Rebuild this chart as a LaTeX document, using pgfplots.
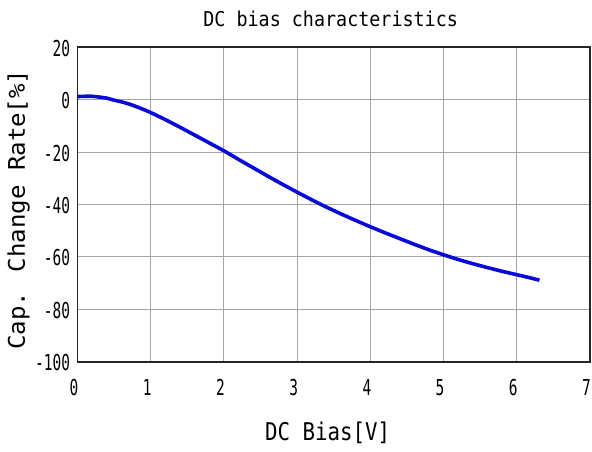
\documentclass[border=0pt]{standalone}
\usepackage{fontspec}
\usepackage{pgfplots}
\pgfplotsset{compat=1.18}
\setmainfont{DejaVu Sans Mono}
\newfontfamily\titlefont{DejaVu Sans Mono}[FakeStretch=0.9]
\newfontfamily\tickfont{DejaVu Sans Mono}[FakeStretch=0.66]
\newfontfamily\xlabfont{DejaVu Sans Mono}[FakeStretch=0.85]
\newfontfamily\ylabfont{DejaVu Sans Mono}[FakeStretch=1.05]
\definecolor{curveblue}{RGB}{10,10,215}
\definecolor{gridgray}{RGB}{165,165,165}

\begin{document}
\begin{tikzpicture}
\begin{axis}[
    at={(0,0)}, anchor=south west,
    scale only axis,
    width=512.5bp, height=314.4bp,
    xmin=0, xmax=7, ymin=-100, ymax=20,
    xtick={0,1,...,7},
    xticklabels={0,1,2,3,4,5,6,7},
    ytick={-100,-80,...,20},
    yticklabels={-100,-80,-60,-40,-20,0,20},
    grid=major,
    major grid style={gridgray, line width=1bp},
    axis line style={black!85, line width=1.6bp},
    tick style={draw=none},
    xticklabel style={font=\tickfont\fontsize{22}{22}\selectfont, anchor=base, yshift=-34bp, xshift=-3.5bp},
    yticklabel style={font=\tickfont\fontsize{22}{22}\selectfont, anchor=east, xshift=-4bp, yshift=-1bp},
    clip=false,
]
\addplot[curveblue, line width=3.6bp, line join=round] coordinates {
    (0.00, 1.2) (0.10, 1.3) (0.20, 1.3) (0.30, 1.0) (0.40, 0.6)
    (0.50, -0.2) (0.60, -0.8) (0.70, -1.6) (0.80, -2.6) (0.90, -3.7)
    (1.00, -4.9) (1.20, -7.6) (1.40, -10.5) (1.60, -13.5) (1.80, -16.5)
    (2.00, -19.5) (2.20, -22.8) (2.40, -26.0) (2.60, -29.2) (2.80, -32.3)
    (3.00, -35.3) (3.20, -38.2) (3.40, -41.0) (3.60, -43.6) (3.80, -46.1)
    (4.00, -48.5) (4.20, -50.8) (4.40, -53.0) (4.60, -55.2) (4.80, -57.3)
    (5.00, -59.2) (5.20, -61.0) (5.40, -62.6) (5.60, -64.1) (5.80, -65.5)
    (6.00, -66.8) (6.20, -68.1) (6.31, -68.9)
};
\node[anchor=base, font=\titlefont\fontsize{20.5}{20.5}\selectfont]
    at ([yshift=20.5bp]rel axis cs:0.494,1) {DC bias characteristics};
\node[anchor=base, font=\xlabfont\fontsize{24.5}{24.5}\selectfont]
    at ([yshift=-78.5bp]rel axis cs:0.488,0) {DC Bias[V]};
\node[anchor=base, rotate=90, font=\ylabfont\fontsize{23}{23}\selectfont]
    at ([xshift=-52.5bp]rel axis cs:0,0.484) {Cap. Change Rate[\%]};
\end{axis}
\pgfresetboundingbox
\useasboundingbox (-77.5bp,-90.3bp) rectangle (514.5bp,361.7bp);
\end{tikzpicture}
\end{document}
